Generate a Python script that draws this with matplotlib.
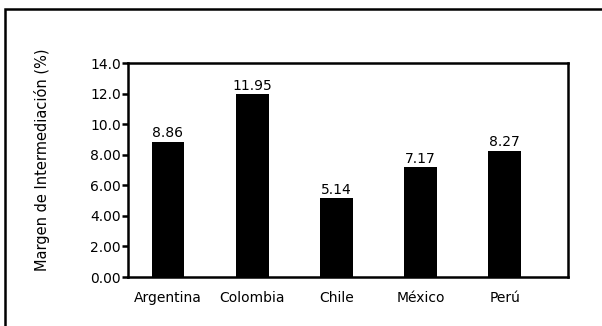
import matplotlib.pyplot as plt
from matplotlib.patches import Rectangle

paises = ['Argentina', 'Colombia', 'Chile', 'México', 'Perú']
margen = [8.86, 11.95, 5.14, 7.17, 8.27]
yticks = [0, 2, 4, 6, 8, 10, 12, 14]
ytick_labels = ['0.00', '2.00', '4.00', '6.00', '8.00', '10.0', '12.0', '14.0']

plt.rcParams['font.family'] = ['DejaVu Sans']

fig = plt.figure(figsize=(6.02, 3.26), dpi=100)
ax = fig.add_axes([0.2126, 0.1503, 0.7309, 0.6564])

x = list(range(len(paises)))
ax.bar(x, margen, width=0.39, color='black')

for xi, v in zip(x, margen):
    ax.annotate(f'{v:.2f}', (xi, v), xytext=(0, 1.0), textcoords='offset points',
                ha='center', va='bottom', fontsize=10)

ax.set_xlim(-0.475, 4.75)
ax.set_ylim(0, 14)
ax.set_yticks(yticks)
ax.set_yticklabels(ytick_labels)
ax.set_xticks(x)
ax.set_xticklabels(paises)
ax.tick_params(axis='y', direction='out', length=4, width=1.8, pad=1, labelsize=10)
ax.tick_params(axis='x', length=0, pad=10, labelsize=10)
for s in ax.spines.values():
    s.set_linewidth(1.8)

fig.text(42 / 602, 1 - 160 / 326, 'Margen de Intermediación (%)', rotation=90,
         ha='center', va='center', fontsize=10.5)

# outer frame (right and bottom edges fall outside the picture)
fig.patches.append(Rectangle((5 / 602, -0.1), 1.2, 1 - 9 / 326 + 0.1,
                             transform=fig.transFigure, fill=False,
                             edgecolor='black', linewidth=1.8))

fig.savefig('out.png', dpi=100)
